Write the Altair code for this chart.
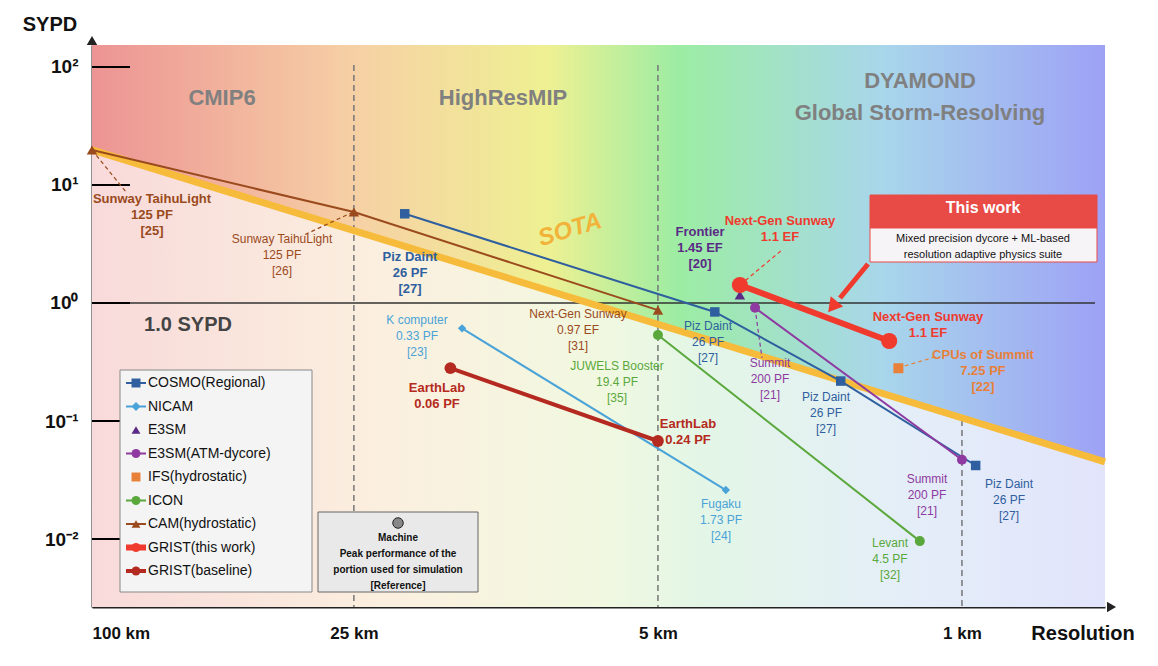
import altair as alt
import pandas as pd

# ---- data series (resolution in km, SYPD) ----
cosmo_km = [19.1, 3.70, 1.90, 0.93]
cosmo_sypd = [5.7, 0.84, 0.218, 0.042]
nicam_km = [14.1, 3.49]
nicam_sypd = [0.61, 0.026]
e3sm_km = [3.24]
e3sm_sypd = [1.17]
e3sm_atm_km = [2.99, 1.0]
e3sm_atm_sypd = [0.91, 0.047]
ifs_km = [1.40]
ifs_sypd = [0.28]
icon_km = [5.0, 1.25]
icon_sypd = [0.535, 0.0096]
cam_km = [100, 25, 5]
cam_sypd = [19.8, 5.9, 0.87]
grist_km = [3.24, 1.47]
grist_sypd = [1.42, 0.477]
base_km = [15.0, 5.0]
base_sypd = [0.281, 0.0677]
sota_km = [100, 0.469]
sota_sypd = [19.8, 0.045]

series = ["COSMO(Regional)", "NICAM", "E3SM", "E3SM(ATM-dycore)", "IFS(hydrostatic)",
          "ICON", "CAM(hydrostatic)", "GRIST(this work)", "GRIST(baseline)"]
colors = ["#2f5f9e", "#4aa3d8", "#5b2a86", "#8e3aa0", "#e8803a",
          "#5aa83c", "#9a4a1c", "#f03a2e", "#b52a20"]
shapes = ["square", "diamond", "triangle-up", "circle", "square",
          "circle", "triangle-up", "circle", "circle"]
kms = [cosmo_km, nicam_km, e3sm_km, e3sm_atm_km, ifs_km, icon_km, cam_km, grist_km, base_km]
sys = [cosmo_sypd, nicam_sypd, e3sm_sypd, e3sm_atm_sypd, ifs_sypd, icon_sypd, cam_sypd, grist_sypd, base_sypd]
widths = [2, 2, 2, 2, 2, 2, 2, 6, 4]
psize = [90, 70, 110, 100, 100, 100, 110, 260, 140]

rows = []
for s, c, sh, k, v, w, ps in zip(series, colors, shapes, kms, sys, widths, psize):
    for a, b in zip(k, v):
        rows.append(dict(series=s, km=a, sypd=b, color=c, shape=sh, w=w, ps=ps))
df = pd.DataFrame(rows)

W, H = 1013, 562
X0, Y0 = 92, 45
YTOP = 153.5


def P(x, y):
    return x - X0, y - Y0


xs = alt.Scale(type="log", domain=[100, 0.469], nice=False)
ys = alt.Scale(type="log", domain=[0.002655, YTOP], nice=False)

# backgrounds
pale = alt.Gradient(gradient="linear", x1=0, x2=1, y1=0, y2=0, stops=[
    alt.GradientStop(offset=0, color="#f8dada"), alt.GradientStop(offset=0.3, color="#fbf0df"),
    alt.GradientStop(offset=0.5, color="#f1f8e0"), alt.GradientStop(offset=0.6, color="#e3f6e6"),
    alt.GradientStop(offset=0.8, color="#e4eef8"), alt.GradientStop(offset=1, color="#e2e4fb")])
strong = alt.Gradient(gradient="linear", x1=0, x2=1, y1=0, y2=0, stops=[
    alt.GradientStop(offset=0, color="#ec9090"), alt.GradientStop(offset=0.26, color="#f6cfa2"),
    alt.GradientStop(offset=0.45, color="#eef08e"), alt.GradientStop(offset=0.58, color="#98eca0"),
    alt.GradientStop(offset=0.78, color="#a5d5ea"), alt.GradientStop(offset=1, color="#9a9ef5")])

one = pd.DataFrame({"a": [0]})
bg = alt.Chart(one).mark_rect(fill=pale).encode(
    x=alt.value(0), x2=alt.value(W), y=alt.value(0), y2=alt.value(H))
sota_df = pd.DataFrame({"km": sota_km, "sypd": sota_sypd, "top": [YTOP, YTOP]})
top = alt.Chart(sota_df).mark_area(color=strong, opacity=0.95).encode(
    x=alt.X("km:Q", scale=xs), y=alt.Y("sypd:Q", scale=ys), y2="top:Q")
sota = alt.Chart(sota_df).mark_line(color="#f7bb3c", strokeWidth=7).encode(
    x=alt.X("km:Q", scale=xs), y=alt.Y("sypd:Q", scale=ys))

# reference lines
vdf = pd.DataFrame({"km": [25, 5]})
vlines = alt.Chart(vdf).mark_rule(color="#777", strokeDash=[6, 4], strokeWidth=1.5).encode(
    x=alt.X("km:Q", scale=xs), y=alt.value(20), y2=alt.value(H))
v1 = alt.Chart(pd.DataFrame({"km": [1]})).mark_rule(color="#777", strokeDash=[6, 4], strokeWidth=1.5).encode(
    x=alt.X("km:Q", scale=xs), y=alt.value(P(0, 420)[1]), y2=alt.value(H))
hline = alt.Chart(pd.DataFrame({"s": [1.0]})).mark_rule(color="#333", strokeWidth=1.5).encode(
    y=alt.Y("s:Q", scale=ys), x=alt.value(P(130, 0)[0]), x2=alt.value(P(1095, 0)[0]))
ytk = alt.Chart(pd.DataFrame({"s": [0.01, 0.1, 1, 10, 100]})).mark_rule(color="black", strokeWidth=2).encode(
    y=alt.Y("s:Q", scale=ys), x=alt.value(0), x2=alt.value(38))

# leader lines (pixel annotations)
lead = pd.DataFrame([
    dict(x=P(92, 150)[0], y=P(92, 150)[1], x2=P(126, 192)[0], y2=P(126, 192)[1], c="#9a4a1c"),
    dict(x=P(353, 212)[0], y=P(353, 212)[1], x2=P(302, 236)[0], y2=P(302, 236)[1], c="#9a4a1c"),
    dict(x=P(740, 285)[0], y=P(740, 285)[1], x2=P(782, 250)[0], y2=P(782, 250)[1], c="#f03a2e"),
    dict(x=P(755, 308)[0], y=P(755, 308)[1], x2=P(762, 358)[0], y2=P(762, 358)[1], c="#8e3aa0"),
    dict(x=P(898, 368)[0], y=P(898, 368)[1], x2=P(938, 356)[0], y2=P(938, 356)[1], c="#e8803a"),
])
leaders = alt.Chart(lead).mark_rule(strokeDash=[4, 3], strokeWidth=1.2).encode(
    x=alt.X("x:Q", scale=None), y=alt.Y("y:Q", scale=None),
    x2="x2:Q", y2="y2:Q", color=alt.Color("c:N", scale=None))

lines = alt.Chart(df).mark_line().encode(
    x=alt.X("km:Q", scale=xs), y=alt.Y("sypd:Q", scale=ys), detail="series:N",
    color=alt.Color("color:N", scale=None), strokeWidth=alt.StrokeWidth("w:Q", scale=None))
pts = alt.Chart(df).mark_point(filled=True, opacity=1).encode(
    x=alt.X("km:Q", scale=xs), y=alt.Y("sypd:Q", scale=ys),
    color=alt.Color("color:N", scale=None), shape=alt.Shape("shape:N", scale=None),
    size=alt.Size("ps:Q", scale=None))

# annotation texts: (page x, page top y, text, color, bold, size)
ann = [
    (152, 193, "Sunway TaihuLight\n125 PF\n[25]", "#9a4a1c", True, 13),
    (282, 234, "Sunway TaihuLight\n125 PF\n[26]", "#9a4a1c", False, 12),
    (410, 251, "Piz Daint\n26 PF\n[27]", "#2f5f9e", True, 13),
    (700, 226, "Frontier\n1.45 EF\n[20]", "#5b2a86", True, 13),
    (780, 215, "Next-Gen Sunway\n1.1 EF", "#f03a2e", True, 13),
    (578, 309, "Next-Gen Sunway\n0.97 EF\n[31]", "#9a4a1c", False, 12),
    (417, 315, "K computer\n0.33 PF\n[23]", "#4aa3d8", False, 12),
    (708, 321, "Piz Daint\n26 PF\n[27]", "#2f5f9e", False, 12),
    (770, 358, "Summit\n200 PF\n[21]", "#8e3aa0", False, 12),
    (928, 311, "Next-Gen Sunway\n1.1 EF", "#f03a2e", True, 13),
    (983, 349, "CPUs of Summit\n7.25 PF\n[22]", "#e8803a", True, 13),
    (826, 392, "Piz Daint\n26 PF\n[27]", "#2f5f9e", False, 12),
    (617, 361, "JUWELS Booster\n19.4 PF\n[35]", "#5aa83c", False, 12),
    (437, 382, "EarthLab\n0.06 PF", "#b52a20", True, 13),
    (688, 418, "EarthLab\n0.24 PF", "#b52a20", True, 13),
    (721, 499, "Fugaku\n1.73 PF\n[24]", "#4aa3d8", False, 12),
    (927, 474, "Summit\n200 PF\n[21]", "#8e3aa0", False, 12),
    (1009, 479, "Piz Daint\n26 PF\n[27]", "#2f5f9e", False, 12),
    (890, 538, "Levant\n4.5 PF\n[32]", "#5aa83c", False, 12),
    (222, 88, "CMIP6", "#808080", True, 22),
    (503, 88, "HighResMIP", "#808080", True, 22),
    (920, 71, "DYAMOND", "#808080", True, 22),
    (920, 103, "Global Storm-Resolving", "#808080", True, 22),
    (188, 315, "1.0 SYPD", "#444444", True, 20),
    (983, 200, "This work", "white", True, 16),
    (983, 233, "Mixed precision dycore + ML-based\nresolution adaptive physics suite", "#111111", False, 11),
    (398, 533, "Machine\nPeak performance of the\nportion used for simulation\n[Reference]", "#111111", True, 10),
]
adf = pd.DataFrame([dict(x=P(a, b)[0], y=P(a, b)[1], t=t, c=c, bold=bo, s=s)
                    for a, b, t, c, bo, s in ann])


def texts(bold):
    return alt.Chart(adf[adf.bold == bold]).mark_text(
        baseline="top", lineBreak="\n", fontWeight="bold" if bold else "normal",
        font="Liberation Sans", lineHeight=16).encode(
        x=alt.X("x:Q", scale=None), y=alt.Y("y:Q", scale=None), text="t:N",
        color=alt.Color("c:N", scale=None), size=alt.Size("s:Q", scale=None))


sota_txt = alt.Chart(one).mark_text(text="SOTA", color="#f2b33a", fontSize=24, fontStyle="italic",
                                    fontWeight="bold", angle=343, font="Liberation Sans").encode(
    x=alt.value(P(570, 0)[0]), y=alt.value(P(0, 230)[1]))

# boxes
boxes = pd.DataFrame([
    dict(x=P(870, 0)[0], x2=P(1097, 0)[0], y=P(0, 195)[1], y2=P(0, 228)[1], f="#e84a45", s="#e84a45"),
    dict(x=P(870, 0)[0], x2=P(1097, 0)[0], y=P(0, 228)[1], y2=P(0, 262)[1], f="#f7f4f8", s="#e84a45"),
    dict(x=P(120, 0)[0], x2=P(312, 0)[0], y=P(0, 370)[1], y2=P(0, 592)[1], f="#f4f4f4", s="#888888"),
    dict(x=P(318, 0)[0], x2=P(478, 0)[0], y=P(0, 512)[1], y2=P(0, 592)[1], f="#e9e9e9", s="#666666"),
])
box = alt.Chart(boxes).mark_rect(strokeWidth=1).encode(
    x=alt.X("x:Q", scale=None), x2="x2:Q", y=alt.Y("y:Q", scale=None), y2="y2:Q",
    fill=alt.Fill("f:N", scale=None), stroke=alt.Stroke("s:N", scale=None))
mach = alt.Chart(one).mark_point(filled=True, color="#888", stroke="#222", strokeWidth=1, size=110, opacity=1).encode(
    x=alt.value(P(398, 0)[0]), y=alt.value(P(0, 523)[1]))

# arrow for "this work"
arr = alt.Chart(one).mark_rule(color="#f03a2e", strokeWidth=5).encode(
    x=alt.value(P(868, 0)[0]), y=alt.value(P(0, 264)[1]), x2=alt.value(P(840, 0)[0]), y2=alt.value(P(0, 298)[1]))
arrh = alt.Chart(one).mark_point(shape="triangle", filled=True, color="#f03a2e", size=260, angle=219, opacity=1).encode(
    x=alt.value(P(834, 0)[0]), y=alt.value(P(0, 305)[1]))

# legend
leg = pd.DataFrame({"name": series, "c": colors, "sh": shapes,
                    "y": [P(0, 383 + 23.5 * i)[1] for i in range(9)],
                    "lw": [2, 2, 0, 2, 0, 2, 2, 6, 4]})
leg_line = alt.Chart(leg).mark_rule().encode(
    y=alt.Y("y:Q", scale=None), x=alt.value(P(126, 0)[0]), x2=alt.value(P(146, 0)[0]),
    color=alt.Color("c:N", scale=None), strokeWidth=alt.StrokeWidth("lw:Q", scale=None))
leg_pt = alt.Chart(leg).mark_point(filled=True, size=80, opacity=1).encode(
    y=alt.Y("y:Q", scale=None), x=alt.value(P(136, 0)[0]),
    color=alt.Color("c:N", scale=None), shape=alt.Shape("sh:N", scale=None))
leg_tx = alt.Chart(leg).mark_text(align="left", fontSize=14, font="Liberation Sans", color="#111").encode(
    y=alt.Y("y:Q", scale=None), x=alt.value(P(148, 0)[0]), text="name:N")

# axes
axes = alt.Chart(pd.DataFrame({"km": [100, 25, 5, 1], "s": [100, 10, 1, 0.1]})).mark_point(opacity=0).encode(
    x=alt.X("km:Q", scale=xs, axis=alt.Axis(
        values=[100, 25, 5, 1], labelExpr="datum.value + ' km'", title="", tickSize=0, grid=False,
        labelFontSize=17, labelFontWeight="bold", labelPadding=18, domainColor="#222", domainWidth=2,
        labelColor="#111", labelFont="Liberation Sans")),
    y=alt.Y("s:Q", scale=ys, axis=alt.Axis(
        values=[0.01, 0.1, 1, 10, 100], title="", tickSize=0, grid=False,
        labelExpr="datum.value >= 100 ? '10²' : datum.value >= 10 ? '10¹' : datum.value >= 1 ? '10⁰' : datum.value >= 0.1 ? '10⁻¹' : '10⁻²'",
        labelFontSize=19, labelFontWeight="bold", labelPadding=14, domainColor="#222", domainWidth=2,
        labelColor="#111", labelFont="Liberation Sans")))
ax_arr = alt.Chart(pd.DataFrame({"x": [0, W + 5], "y": [-3, H], "a": [0, 90]})).mark_point(
    shape="triangle", filled=True, color="#222", size=110, opacity=1).encode(
    x=alt.X("x:Q", scale=None), y=alt.Y("y:Q", scale=None), angle=alt.Angle("a:Q", scale=None))
ax_tx = alt.Chart(pd.DataFrame({"x": [-42, W - 22], "y": [-20, H + 27], "t": ["SYPD", "Resolution"]})).mark_text(
    fontSize=20, fontWeight="bold", font="Liberation Sans", color="#111").encode(
    x=alt.X("x:Q", scale=None), y=alt.Y("y:Q", scale=None), text="t:N")

chart = alt.layer(
    axes, bg, top, vlines, v1, hline, ytk, sota, leaders, lines, pts, sota_txt, box, mach, arr, arrh,
    leg_line, leg_pt, leg_tx, texts(True), texts(False), ax_arr, ax_tx
).properties(
    width=W, height=H, autosize=alt.AutoSizeParams(type="none"),
    padding={"left": 84, "top": 37, "right": 40, "bottom": 40}
).configure_view(stroke=None)

chart.save("out.html", embed_options={"renderer": "svg", "actions": False})
